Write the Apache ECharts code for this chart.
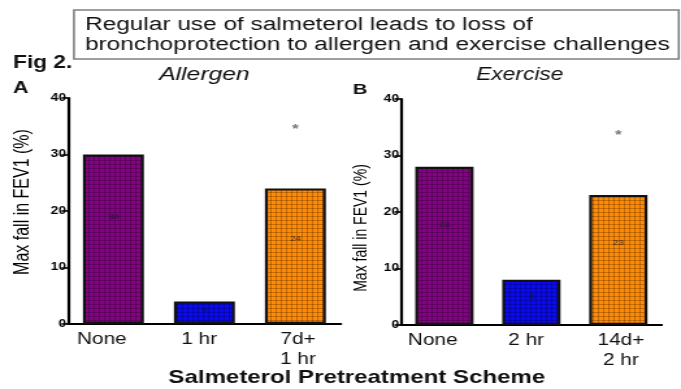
<!DOCTYPE html>
<html>
<head>
<meta charset="utf-8">
<script src="https://cdn.jsdelivr.net/npm/echarts@6/dist/echarts.min.js"></script>
<style>
  html, body { margin: 0; padding: 0; background: #fff; overflow: hidden; }
  #wrap { width: 681px; height: 389px; overflow: hidden; }
  /* the figure is laid out narrow and widened horizontally */
  #chart { width: 524px; height: 389px; transform: scaleX(1.2996); transform-origin: 0 0; }
</style>
</head>
<body>
<div id="wrap"><div id="chart"></div></div>
<script>
// Panel A: allergen challenge
const categoriesA = ['None', '1 hr', '7d+\n1 hr'];
const valuesA = [30, 4, 24];
const starA = [null, null, 35];

// Panel B: exercise challenge
const categoriesB = ['None', '2 hr', '14d+\n2 hr'];
const valuesB = [28, 8, 23];
const starB = [null, null, 34];

// y axis ticks (percent fall in FEV1)
const yTicks = [0, 10, 20, 30, 40];

const barColors = ['#820482', '#0a0af0', '#ff8a05'];

const FONT = '"Liberation Sans", Arial, sans-serif';

// woven fill used inside the bars
function weave(base) {
  const c = document.createElement('canvas');
  c.width = 4; c.height = 4;
  const g = c.getContext('2d');
  g.fillStyle = base; g.fillRect(0, 0, 4, 4);
  g.fillStyle = 'rgba(0,0,0,0.22)';
  g.fillRect(0, 0, 4, 1);
  g.fillRect(0, 0, 1, 4);
  return { image: c, repeat: 'repeat' };
}

const labelShift = [[0, 18, 0, 0], [0, 8, 0, 0], [0, 0, 0, 4]];
function cats(list) {
  return list.map((v, i) => ({ value: v, textStyle: { padding: labelShift[i] } }));
}

function bars(values) {
  return values.map((v, i) => ({
    value: v,
    itemStyle: { color: weave(barColors[i]) }
  }));
}

const yMin = yTicks[0], yMax = yTicks[yTicks.length - 1], yStep = yTicks[1] - yTicks[0];

function yAxis(gi, nameSize, namePad) {
  return {
    gridIndex: gi, type: 'value', min: yMin, max: yMax, interval: yStep,
    name: 'Max fall in FEV1 (%)', nameLocation: 'middle', nameRotate: 90,
    nameGap: gi === 0 ? 27 : 23,
    nameTextStyle: { fontFamily: FONT, fontSize: nameSize, color: '#000', padding: namePad },
    axisLine: { show: true, lineStyle: { color: '#000', width: 2.2 } },
    axisTick: { show: true, length: 5, lineStyle: { color: '#000', width: 1.6 } },
    axisLabel: { margin: 1.5, fontFamily: FONT, fontSize: 10.5, fontWeight: 'bold', color: '#000' },
    splitLine: { show: false }
  };
}

function xAxis(gi, list) {
  return {
    gridIndex: gi, type: 'category', data: cats(list),
    axisLine: { show: true, lineStyle: { color: '#000', width: 2 } },
    axisTick: { show: false },
    axisLabel: { margin: 6, fontFamily: FONT, fontSize: 16, color: '#111', lineHeight: 20, interval: 0 }
  };
}

function barSeries(gi, values) {
  return {
    type: 'bar', xAxisIndex: gi, yAxisIndex: gi,
    data: bars(values), barCategoryGap: '33%',
    itemStyle: { borderColor: '#111', borderWidth: 2.2 },
    label: {
      show: true, position: ['50%', '37%'], align: 'center', verticalAlign: 'middle',
      fontFamily: FONT, fontSize: 7.5, color: 'rgba(20,20,40,0.8)'
    },
    silent: true
  };
}

function starSeries(gi, stars) {
  return {
    type: 'scatter', xAxisIndex: gi, yAxisIndex: gi,
    data: stars, symbolSize: 0,
    label: {
      show: true, position: 'inside', formatter: '*', offset: [0, 3],
      fontFamily: FONT, fontSize: 13, fontWeight: 'bold', color: '#555'
    },
    silent: true
  };
}

const chart = echarts.init(document.getElementById('chart'), null, { renderer: 'canvas' });

chart.setOption({
  animation: false,
  backgroundColor: '#fff',
  grid: [
    { left: 52.3, width: 210, top: 98, height: 226 },
    { left: 308.5, width: 200.7, top: 99, height: 226 }
  ],
  xAxis: [xAxis(0, categoriesA), xAxis(1, categoriesB)],
  yAxis: [yAxis(0, 16, [0, 0, 0, 18]), yAxis(1, 14, [0, 32, 0, 0])],
  series: [
    barSeries(0, valuesA), starSeries(0, starA),
    barSeries(1, valuesB), starSeries(1, starB)
  ],
  graphic: [
    { type: 'rect', shape: { x: 56.9, y: 10, width: 465.4, height: 49 },
      style: { fill: '#fff', stroke: '#808080', lineWidth: 1.6 } },
    { type: 'text', x: 65.4, y: 25,
      style: { text: 'Regular use of salmeterol leads to loss of', font: '18.8px ' + FONT,
               fill: '#111', textVerticalAlign: 'middle' } },
    { type: 'text', x: 65.4, y: 45,
      style: { text: 'bronchoprotection to allergen and exercise challenges', font: '18.8px ' + FONT,
               fill: '#111', textVerticalAlign: 'middle' } },
    { type: 'text', x: 10, y: 63,
      style: { text: 'Fig 2.', font: 'bold 17.5px ' + FONT, fill: '#111', textVerticalAlign: 'middle' } },
    { type: 'text', x: 10, y: 88,
      style: { text: 'A', font: 'bold 16.5px ' + FONT, fill: '#111', textVerticalAlign: 'middle' } },
    { type: 'text', x: 271.5, y: 90,
      style: { text: 'B', font: 'bold 15.5px ' + FONT, fill: '#111', textVerticalAlign: 'middle' } },
    { type: 'text', x: 157.3, y: 75,
      style: { text: 'Allergen', font: 'italic 19px ' + FONT, fill: '#111',
               textAlign: 'center', textVerticalAlign: 'middle' } },
    { type: 'text', x: 400, y: 75,
      style: { text: 'Exercise', font: 'italic 17.5px ' + FONT, fill: '#111',
               textAlign: 'center', textVerticalAlign: 'middle' } },
    { type: 'text', x: 274.6, y: 378,
      style: { text: 'Salmeterol Pretreatment Scheme', font: 'bold 18.5px ' + FONT, fill: '#111',
               textAlign: 'center', textVerticalAlign: 'middle' } }
  ]
});
</script>
</body>
</html>
